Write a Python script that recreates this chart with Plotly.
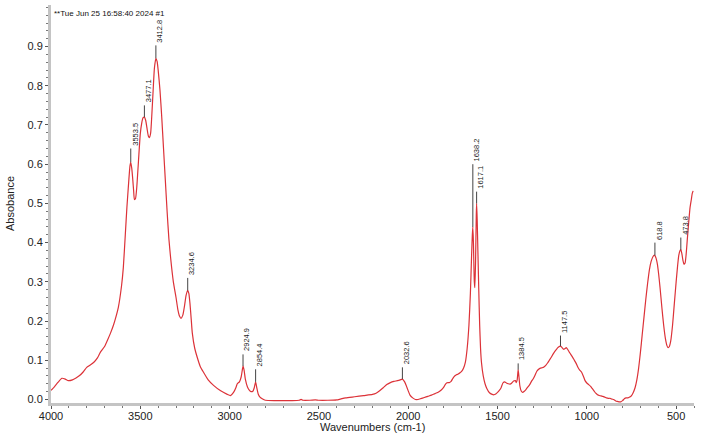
import plotly.graph_objects as go

# ---- spectrum data (wavenumber cm-1, absorbance) ----
wavenumbers = [
    4000, 3980, 3960, 3939, 3920, 3903, 3880, 3860, 3840, 3820, 3800, 3780, 3760, 3740, 3724,
    3700, 3685, 3668, 3650, 3640, 3623, 3605, 3595, 3584, 3575, 3565, 3558, 3553.5, 3548, 3542,
    3537, 3533, 3527, 3520, 3510, 3500, 3492, 3485, 3477.1, 3470, 3462, 3455, 3449, 3442, 3435,
    3428, 3421, 3412.8, 3406, 3400, 3390, 3380, 3370, 3360, 3350, 3340, 3330, 3315, 3300, 3290,
    3280, 3272, 3262, 3252, 3244, 3234.6, 3228, 3222, 3215, 3209, 3195, 3181, 3165, 3147, 3120,
    3090, 3050, 3013, 2995, 2978, 2965, 2957, 2945, 2935, 2929, 2924.9, 2919, 2912, 2900, 2890,
    2880, 2870, 2862, 2854.4, 2848, 2840, 2830, 2815, 2800, 2750, 2700, 2650, 2610, 2600, 2590,
    2550, 2520, 2500, 2450, 2400, 2380, 2350, 2300, 2250, 2200, 2180, 2160, 2140, 2120, 2100,
    2080, 2060, 2045, 2032.6, 2020, 2010, 2000, 1990, 1975, 1960, 1945, 1930, 1910, 1890, 1870,
    1850, 1830, 1815, 1800, 1790, 1780, 1770, 1760, 1750, 1740, 1730, 1720, 1710, 1700, 1690,
    1680, 1670, 1660, 1652, 1645, 1641, 1638.2, 1635, 1630, 1627, 1623, 1619, 1617.1, 1614, 1610,
    1605, 1600, 1595, 1590, 1580, 1570, 1560, 1545, 1530, 1520, 1510, 1500, 1490, 1480, 1470,
    1460, 1450, 1440, 1430, 1420, 1410, 1400, 1395, 1390, 1384.5, 1380, 1375, 1368, 1360, 1350,
    1340, 1330, 1320, 1310, 1300, 1290, 1280, 1270, 1260, 1250, 1240, 1230, 1220, 1210, 1200,
    1190, 1180, 1170, 1160, 1147.5, 1140, 1130, 1122, 1115, 1108, 1100, 1090, 1080, 1070, 1060,
    1050, 1040, 1030, 1020, 1010, 1000, 990, 980, 970, 960, 950, 940, 930, 920, 910,
    900, 890, 880, 870, 860, 850, 840, 830, 820, 810, 800, 790, 780, 770, 760,
    750, 740, 730, 720, 710, 700, 690, 680, 670, 660, 650, 640, 630, 622, 618.8,
    612, 605, 598, 590, 580, 570, 560, 552, 545, 538, 530, 520, 510, 500, 492,
    485, 478, 473.8, 468, 462, 456, 450, 444, 438, 430, 422, 415, 410, 405,
]
absorbance = [
    0.023, 0.033, 0.044, 0.054, 0.052, 0.048, 0.050, 0.055, 0.061, 0.070, 0.082, 0.088, 0.095, 0.106, 0.120,
    0.135, 0.150, 0.168, 0.190, 0.205, 0.235, 0.290, 0.337, 0.420, 0.490, 0.555, 0.595, 0.605, 0.590, 0.560,
    0.530, 0.510, 0.512, 0.540, 0.610, 0.678, 0.705, 0.718, 0.720, 0.712, 0.690, 0.672, 0.668, 0.680, 0.730,
    0.790, 0.845, 0.870, 0.862, 0.840, 0.790, 0.720, 0.640, 0.560, 0.480, 0.410, 0.360, 0.300, 0.260, 0.230,
    0.212, 0.207, 0.215, 0.240, 0.265, 0.278, 0.270, 0.245, 0.205, 0.170, 0.130, 0.107, 0.085, 0.070, 0.050,
    0.036, 0.022, 0.013, 0.010, 0.018, 0.030, 0.040, 0.045, 0.058, 0.075, 0.085, 0.075, 0.052, 0.032, 0.024,
    0.020, 0.021, 0.030, 0.045, 0.030, 0.014, 0.006, 0.001, -0.002, -0.003, -0.003, -0.003, -0.002, 0.000, -0.002,
    -0.002, -0.001, -0.002, -0.002, -0.001, 0.001, 0.004, 0.007, 0.010, 0.013, 0.016, 0.022, 0.030, 0.038, 0.043,
    0.046, 0.048, 0.050, 0.052, 0.045, 0.034, 0.022, 0.011, 0.004, 0.000, 0.000, 0.002, 0.005, 0.008, 0.011,
    0.015, 0.019, 0.024, 0.032, 0.040, 0.043, 0.043, 0.046, 0.054, 0.060, 0.063, 0.065, 0.068, 0.072, 0.080,
    0.095, 0.130, 0.190, 0.270, 0.370, 0.420, 0.440, 0.400, 0.300, 0.285, 0.350, 0.470, 0.500, 0.460, 0.380,
    0.280, 0.190, 0.130, 0.095, 0.060, 0.040, 0.028, 0.017, 0.013, 0.012, 0.014, 0.018, 0.023, 0.030, 0.042,
    0.045, 0.042, 0.040, 0.039, 0.042, 0.047, 0.048, 0.043, 0.050, 0.076, 0.058, 0.035, 0.022, 0.018, 0.021,
    0.026, 0.032, 0.038, 0.046, 0.053, 0.062, 0.072, 0.077, 0.080, 0.081, 0.083, 0.087, 0.093, 0.100, 0.107,
    0.115, 0.122, 0.128, 0.133, 0.136, 0.133, 0.128, 0.130, 0.132, 0.128, 0.122, 0.115, 0.108, 0.100, 0.092,
    0.082, 0.075, 0.070, 0.060, 0.048, 0.042, 0.038, 0.034, 0.028, 0.022, 0.016, 0.012, 0.010, 0.009, 0.008,
    0.006, 0.004, 0.003, 0.003, 0.001, 0.000, -0.003, -0.005, -0.006, -0.006, -0.003, 0.002, 0.004, 0.004, 0.006,
    0.010, 0.018, 0.030, 0.050, 0.080, 0.120, 0.165, 0.210, 0.255, 0.295, 0.330, 0.352, 0.364, 0.368, 0.367,
    0.360, 0.345, 0.320, 0.285, 0.235, 0.190, 0.155, 0.138, 0.132, 0.135, 0.150, 0.190, 0.245, 0.300, 0.340,
    0.368, 0.380, 0.382, 0.372, 0.355, 0.345, 0.348, 0.370, 0.405, 0.450, 0.490, 0.510, 0.525, 0.532,
]

# ---- peak labels ----
peak_wn = [3553.5, 3477.1, 3412.8, 3234.6, 2924.9, 2854.4, 2032.6, 1638.2, 1617.1, 1384.5, 1147.5, 618.8, 473.8]
peak_abs = [0.605, 0.720, 0.870, 0.278, 0.085, 0.045, 0.052, 0.440, 0.500, 0.076, 0.136, 0.367, 0.382]
label_abs = [0.640, 0.750, 0.903, 0.310, 0.115, 0.077, 0.082, 0.600, 0.530, 0.092, 0.163, 0.400, 0.413]
peak_text = ["3553.5", "3477.1", "3412.8", "3234.6", "2924.9", "2854.4", "2032.6",
             "1638.2", "1617.1", "1384.5", "1147.5", "618.8", "473.8"]

x_ticks = [4000, 3500, 3000, 2500, 2000, 1500, 1000, 500]
y_ticks = [0.0, 0.1, 0.2, 0.3, 0.4, 0.5, 0.6, 0.7, 0.8, 0.9]

title_text = "**Tue Jun 25 16:58:40 2024 #1"
x_title = "Wavenumbers (cm-1)"
y_title = "Absobance"

FONT = "Liberation Sans, Arial, sans-serif"

fig = go.Figure()
fig.add_trace(go.Scatter(
    x=wavenumbers, y=absorbance, mode="lines",
    line=dict(color="#dc3238", width=1.2, shape="spline", smoothing=0.5),
    hoverinfo="skip", showlegend=False,
))

for wn, pa, la, txt in zip(peak_wn, peak_abs, label_abs, peak_text):
    fig.add_shape(type="line", xref="x", yref="y", x0=wn, x1=wn, y0=pa, y1=la,
                  line=dict(color="#444444", width=1))
    fig.add_annotation(x=wn, y=la, xref="x", yref="y", text=txt, showarrow=False,
                       textangle=-90, xanchor="center", yanchor="bottom",
                       xshift=4, yshift=1, font=dict(family=FONT, size=7.5, color="#222222"))

fig.add_annotation(x=0, y=1, xref="paper", yref="paper", text=title_text, showarrow=False,
                   xanchor="left", yanchor="top", xshift=1, yshift=-2,
                   font=dict(family=FONT, size=8, color="#111111"))

# axis titles as annotations
fig.add_annotation(x=0.5, y=0, xref="paper", yref="paper", text=x_title, showarrow=False,
                   xanchor="center", yanchor="middle", yshift=-24,
                   font=dict(family=FONT, size=11, color="#222222"))
fig.add_annotation(x=0, y=0.5, xref="paper", yref="paper", text=y_title, showarrow=False,
                   textangle=-90, xanchor="center", yanchor="middle", xshift=-41,
                   font=dict(family=FONT, size=11, color="#222222"))

fig.update_layout(
    width=703, height=438,
    margin=dict(l=51, r=9, t=5, b=35),
    paper_bgcolor="white", plot_bgcolor="white",
    font=dict(family=FONT, size=11, color="#222222"),
    showlegend=False,
)
fig.update_xaxes(
    range=[4000, 400], showgrid=False, zeroline=False, automargin=False,
    showline=True, linecolor="#c4c4c4", linewidth=3,
    tickmode="array", tickvals=x_ticks,
    ticks="outside", ticklen=3, tickwidth=1, tickcolor="#555555",
    ticklabelstandoff=-2,
    minor=dict(dtick=100, tick0=0, ticks="outside", ticklen=2, tickwidth=1, tickcolor="#777777"),
    tickfont=dict(size=11, color="#222222"),
)
fig.update_yaxes(
    range=[-0.009, 1.006], showgrid=False, zeroline=False, automargin=False,
    showline=True, linecolor="#c4c4c4", linewidth=3,
    tickmode="array", tickvals=y_ticks, tickformat=".1f",
    ticks="outside", ticklen=3, tickwidth=1, tickcolor="#555555",
    minor=dict(dtick=0.02, tick0=0, ticks="outside", ticklen=2, tickwidth=1, tickcolor="#777777"),
    tickfont=dict(size=11, color="#222222"),
)

fig.write_html("out.html")
